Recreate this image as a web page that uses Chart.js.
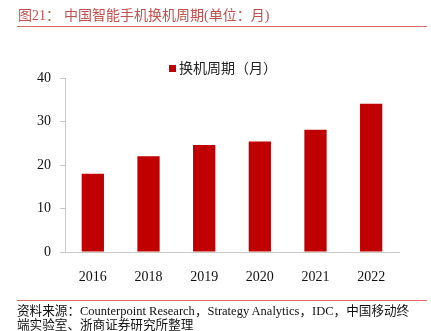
<!DOCTYPE html>
<html>
<head>
<meta charset="utf-8">
<script src="https://cdn.jsdelivr.net/npm/chart.js"></script>
<style>
  html, body { margin: 0; padding: 0; background: #fff; }
  #wrap { position: relative; width: 431px; height: 331px; overflow: hidden; }
  #c { position: absolute; left: 0; top: 0; }
  .title { position: absolute; left: 18px; top: 4px; font: 14px "Liberation Serif", "Noto Sans CJK SC", serif; color: #c0504d; white-space: nowrap; }
  .title .sp { display: inline-block; width: 4px; }
  .rule { position: absolute; left: 17px; width: 410px; height: 0; border-top: 1.5px solid #d9696a; }
  .legend { position: absolute; left: 169px; top: 57px; font: 14px "Noto Sans CJK SC", sans-serif; color: #222; white-space: nowrap; }
  .legend i { display: inline-block; width: 7px; height: 7px; background: #c00000; margin-right: 3px; vertical-align: 1px; }
  .foot { position: absolute; left: 17px; top: 303px; font-family: "Noto Sans CJK SC", serif; font-size: 12.6px; color: #111; white-space: nowrap; }
  .foot div { height: 13.5px; line-height: 13.5px; }
  .foot span { font-family: "Liberation Serif", serif; font-size: 12.5px; line-height: 13.5px; }
</style>
</head>
<body>
<div id="wrap">
  <canvas id="c" width="431" height="331"></canvas>
  <div class="title">图21：<span class="sp"></span>中国智能手机换机周期(单位：月)</div>
  <div class="rule" style="top:26px"></div>
  <div class="legend"><i></i>换机周期（月）</div>
  <div class="rule" style="top:300px"></div>
  <div class="foot">
    <div>资料来源：<span>Counterpoint Research</span>，<span>Strategy Analytics</span>，<span>IDC</span>，中国移动终</div>
    <div>端实验室、浙商证券研究所整理</div>
  </div>
</div>
<script>
// 换机周期 (月)
const years = ['2016', '2018', '2019', '2020', '2021', '2022'];
const cycleMonths = [18, 22, 24.6, 25.4, 28.1, 34.1];
const yTicks = [0, 10, 20, 30, 40];

const ctx = document.getElementById('c');
new Chart(ctx, {
  type: 'bar',
  data: {
    labels: years,
    datasets: [{
      label: '换机周期（月）',
      data: cycleMonths,
      backgroundColor: '#c00000',
      borderWidth: 0,
      categoryPercentage: 1,
      barPercentage: 0.4
    }]
  },
  options: {
    responsive: false,
    animation: false,
    layout: { padding: { left: 0, right: 32, top: 78, bottom: 0 } },
    plugins: {
      legend: { display: false },
      tooltip: { enabled: false }
    },
    scales: {
      x: {
        grid: { display: false },
        border: { color: '#c8c8c8', width: 1 },
        ticks: {
          color: '#111',
          padding: 9,
          font: { family: 'Liberation Serif', size: 14 }
        },
        afterFit: (s) => { s.height = 79; }
      },
      y: {
        min: 0,
        max: 40,
        afterBuildTicks: (s) => { s.ticks = yTicks.map(v => ({ value: v })); },
        grid: { drawOnChartArea: false, color: '#c8c8c8', tickLength: 5 },
        border: { color: '#c8c8c8', width: 1 },
        ticks: {
          color: '#111',
          padding: 9,
          font: { family: 'Liberation Serif', size: 14 }
        },
        afterFit: (s) => { s.width = 65; }
      }
    }
  }
});
</script>
</body>
</html>
